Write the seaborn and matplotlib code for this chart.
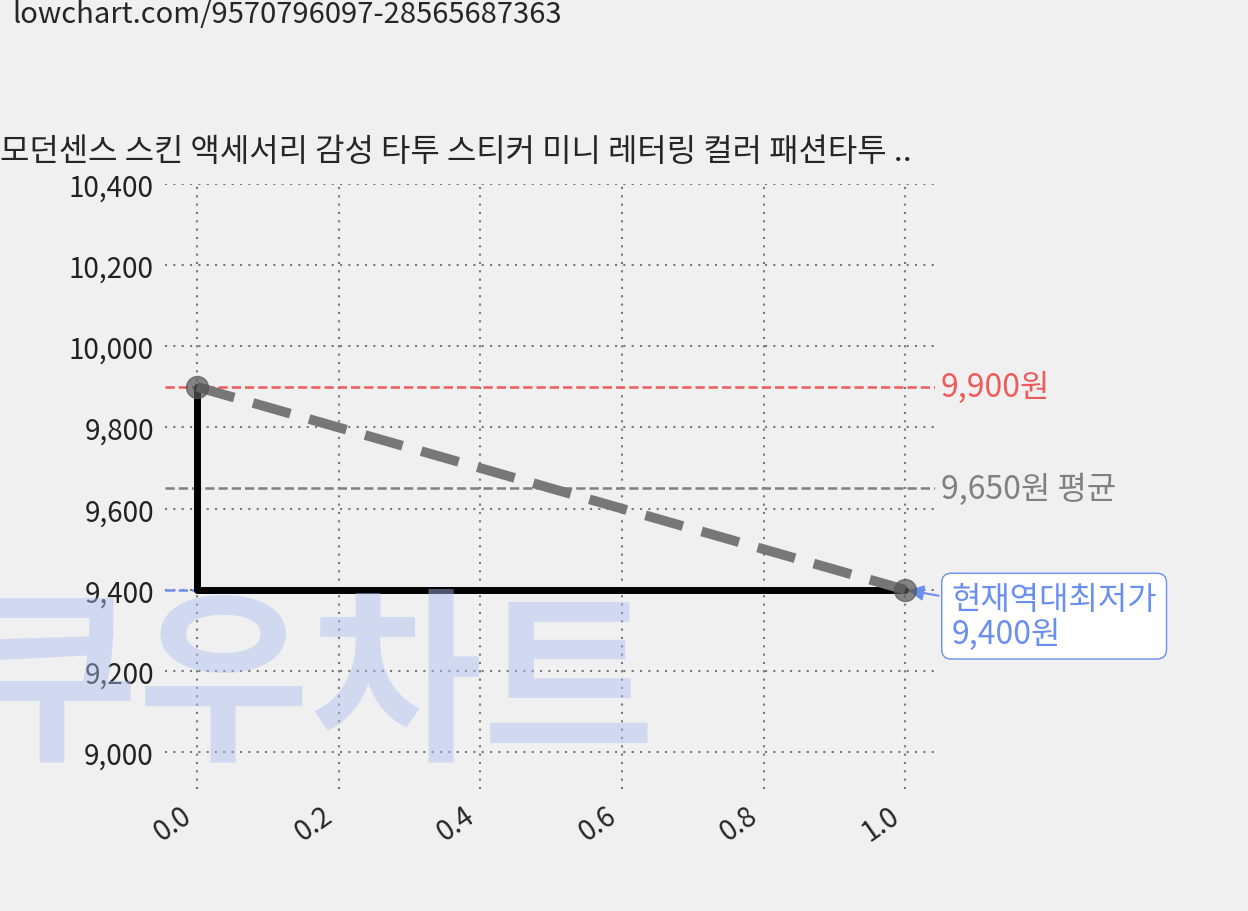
import matplotlib
matplotlib.use("Agg")
import matplotlib.pyplot as plt
import seaborn as sns
import pandas as pd

sns.set_theme(style="white")
plt.rcParams['font.family'] = ['Noto Sans CJK KR', 'DejaVu Sans']

xs = [0.0, 1.0]
prices = [9900, 9400]
max_price = 9900
avg_price = 9650
min_price = 9400
yticks = [9000, 9200, 9400, 9600, 9800, 10000, 10200, 10400]
title = "모던센스 스킨 액세서리 감성 타투 스티커 미니 레터링 컬러 패션타투 .."
url = "lowchart.com/9570796097-28565687363"

W, H = 1248, 912
fig = plt.figure(figsize=(W/100, H/100), dpi=100, facecolor="#f0f0f0")
ax = fig.add_axes([165/W, 1-790/H, (935-165)/W, (790-185)/H])
ax.set_facecolor("#f0f0f0")
for s in ax.spines.values():
    s.set_visible(False)
ax.set_xlim(-0.045, 1.042)
ax.set_ylim(8909, 10400)

fig.text(310/W, 1-690/H, "쿠우차트", fontsize=135, fontweight="black", color="#aabfee",
         alpha=0.45, ha="center", va="center", zorder=0, style="italic")

ax.grid(True, linestyle=(0, (1, 3)), color="#777777", linewidth=1.5)
ax.set_yticks(yticks)
ax.set_yticklabels([f"{v:,}" for v in yticks], fontsize=20, color="#222222", fontweight="light")
ax.set_xticks([0, 0.2, 0.4, 0.6, 0.8, 1.0])
ax.set_xticklabels(["0.0", "0.2", "0.4", "0.6", "0.8", "1.0"], fontsize=20, rotation=35, ha="right",
                   fontweight="light")
ax.tick_params(length=0, pad=8)

ax.axhline(max_price, color="#f05a5a", linestyle="--", lw=1.8)
ax.axhline(avg_price, color="#808080", linestyle="--", lw=1.8)
ax.plot([-0.045, 1.0], [min_price, min_price], color="#6a8ff0", linestyle="--", lw=1.8)

df = pd.DataFrame({"x": xs, "y": prices})
ax.plot([xs[0], xs[0], xs[1]], [prices[0], prices[1], prices[1]], color="black", lw=5, zorder=3)
sns.lineplot(data=df, x="x", y="y", ax=ax, color="#777777", lw=7, linestyle=(0, (4, 2)), zorder=4)
ax.scatter(xs, prices, s=250, color="#555555", alpha=0.7, zorder=5)
ax.set_xlabel(""); ax.set_ylabel("")

ax.text(1.05, max_price, f"{max_price:,}원", color="#f05a5a", fontsize=23, va="center", clip_on=False)
ax.text(1.05, avg_price, f"{avg_price:,}원 평균", color="#808080", fontsize=23, va="center", clip_on=False)
ax.annotate(f"현재역대최저가\n{min_price:,}원", xy=(1.0, min_price), xytext=(1.065, 9335),
            color="#6a8ff0", fontsize=23, va="center", annotation_clip=False, linespacing=1.1,
            bbox=dict(boxstyle="round,pad=0.3", fc="white", ec="#6a8ff0"),
            arrowprops=dict(arrowstyle="-|>", color="#6a8ff0", lw=1.5))

fig.text(0.0, 1-152/H, title, fontsize=23, ha="left", va="center")
fig.text(12/W, 1-15/H, url, fontsize=21, ha="left", va="center")

fig.savefig("out.png", dpi=100, facecolor=fig.get_facecolor())
